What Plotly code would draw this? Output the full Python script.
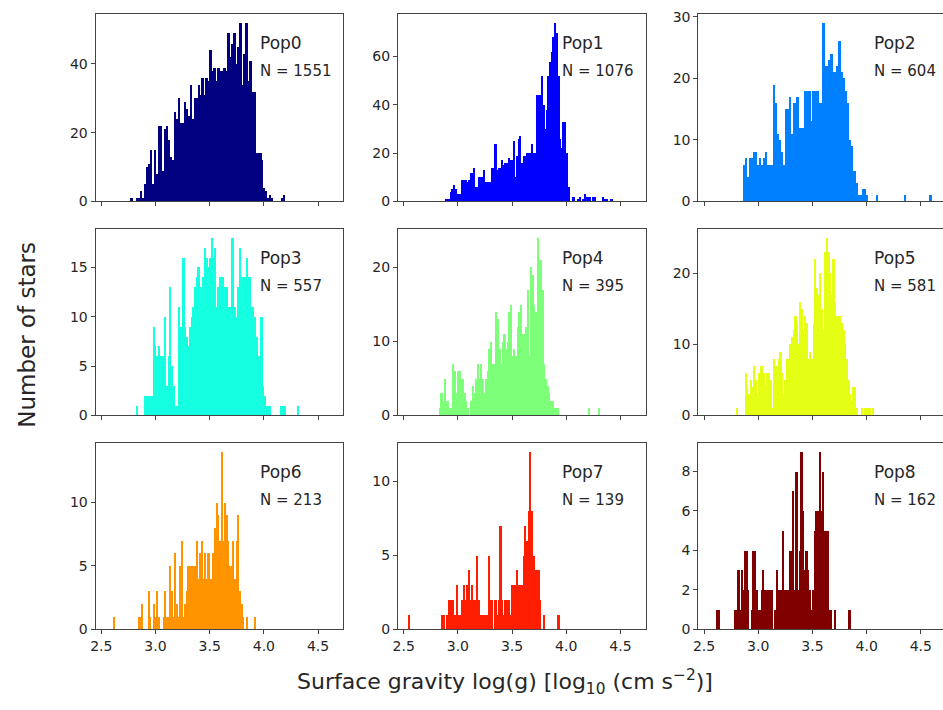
import plotly.graph_objects as go

# ---------------- data ----------------
pop_names = ["Pop0", "Pop1", "Pop2", "Pop3", "Pop4", "Pop5", "Pop6", "Pop7", "Pop8"]
pop_n = [1551, 1076, 604, 557, 395, 581, 213, 139, 162]

bin_start = [2.766, 2.882, 2.866, 2.821, 2.827, 2.805, 2.607, 2.546, 2.616]
bin_width = [0.0183, 0.0153, 0.0183, 0.0153, 0.0153, 0.0153, 0.0153, 0.0153, 0.0153]

pop0_counts = [1,0,0,1,1,3,1,5,10,11, 15,5,15,8,22,22,9,21,22,18, 13,12,26,24,30,23,23,29,27,25,
               34,24,30,30,34,31,36,31,36,35, 44,38,39,35,39,38,38,39,38,49, 42,46,49,40,45,52,34,43,52,35,
               41,32,32,14,14,14,12,4,3,1, 2,1,0,0,0,0,1,2]
pop1_counts = [1,1,1,4,5,7,5,3,3,3, 9,9,9,8,9,12,12,14,6,6, 10,10,10,13,8,8,8,8,14,14,
               24,13,14,14,17,15,16,16,18,17, 17,25,10,19,26,27,16,19,19,20, 20,20,24,20,20,44,44,44,52,40,
               30,38,52,58,62,68,74,70,52,26, 22,33,33,20,6,0,0,2,0,0, 1,2,0,1,3,2,2,2,0,2,
               2,0,0,0,0,2,1,1,0,0, 1]
pop2_counts = [6,7,4,7,7,8,8,6,7,6, 7,8,6,6,6,19,16,11,10,8, 6,15,15,17,11,16,16,17,12,12,
               12,18,18,18,13,18,18,18,16,16, 29,22,22,23,24,21,21,22,26,21, 20,18,16,10,9,5,5,3,1,1,
               2,2,1,0,0,0,0,1,0,0, 0,0,0,0,0,0,0,0,0,0, 0,1,0,0,0,0,0,0,0,0, 0,0,0,0,1]
pop3_counts = [1,0,0,0,0,2,2,2,2,2, 9,7,6,7,6,6,6,10,3,6, 13,5,3,1,1,11,9,9,16,9,
               8,7,9,10,11,13,14,15,13,13, 14,17,16,15,16,18,16,17,11,13, 14,14,14,13,13,11,11,18,18,11,
               10,13,17,14,14,14,16,14,14,11, 11,10,8,6,6,10,3,2,1,1, 1,0,0,0,0,0,0,1,1,1,
               0,0,0,0,0,0,0,1]
pop4_counts = [1,3,2,5,2,2,1,1,7,6, 3,6,6,5,5,3,2,1,0,2, 4,3,5,7,5,7,5,3,5,6,
               9,10,7,7,14,13,9,7,10,11, 9,10,14,15,8,9,8,12,14,15, 11,11,12,17,8,20,19,15,14,24,
               21,21,17,7,5,4,3,2,2,1, 1,1,0,0,0,0,0,0,0,0, 0,0,0,0,0,0,0,0,0,0,
               1,0,0,0,0,0,1]
pop5_counts = [1,0,0,0,0,6,4,3,5,4, 7,5,3,6,7,7,6,4,6,6, 5,1,8,7,7,8,9,6,3,5,
               8,8,10,11,12,14,13,10,16,15, 12,14,13,8,9,8,13,22,18,17, 20,15,12,23,25,23,20,17,22,16,
               14,14,14,13,12,10,8,5,3,2, 4,4,1,0,0,1,0,1,1,1, 1,0,1]
pop6_counts = [1,0,0,0,0,0,0,0,0,0, 0,0,0,0,0,1,1,2,0,0, 0,3,1,0,2,1,3,1,0,0,
               1,3,1,1,5,3,1,6,2,1, 5,7,1,2,3,5,5,5,5,5, 7,4,6,7,4,6,4,6,4,4,
               6,8,10,9,7,14,7,10,9,7, 5,5,7,4,7,9,3,2,1,0, 1,0,0,0,0,1]
pop7_counts = [1,0,0,0,0,0,0,0,0,0, 0,0,0,0,0,0,0,0,0,0, 1,1,0,1,2,2,2,1,1,3,
               1,1,2,3,2,3,4,2,3,2, 2,5,2,1,1,1,1,1,5,2, 2,0,2,1,2,7,2,1,2,2,
               2,1,3,3,3,4,3,3,3,5, 7,6,8,12,8,5,4,4,4,2, 0,1,0,0,0,0,0,0,0,0, 1]
pop8_counts = [1,1,0,0,0,0,0,0,0,0, 0,1,1,3,1,3,2,4,4,2, 0,1,4,4,2,1,1,2,3,2,
               2,2,2,2,0,1,3,2,2,2, 5,2,2,2,4,4,7,2,8,2, 4,9,6,3,4,3,2,1,2,5,
               6,6,9,6,8,5,5,5,1,1, 0,1,0,0,0,0,0,0,0,0, 1]

all_counts = [pop0_counts, pop1_counts, pop2_counts, pop3_counts, pop4_counts,
              pop5_counts, pop6_counts, pop7_counts, pop8_counts]

y_dticks = [20, 20, 10, 5, 10, 10, 5, 5, 2]
x_ticks = [2.5, 3.0, 3.5, 4.0, 4.5]
x_ticklabels = ["2.5", "3.0", "3.5", "4.0", "4.5"]

# jet colormap sampled at 9 levels
colors = ["#000080", "#0000ff", "#0080ff", "#15ffe1", "#7dff7a",
          "#e4ff13", "#ff9400", "#ff1e00", "#800000"]

# ---------------- layout geometry ----------------
W, H = 943, 710
col_px = [(91, 340), (395, 644), (697, 943)]
row_px = [(9, 200), (228, 418), (446, 636)]
px_per_unit = 249 / 2.285
x_lo = 2.447
label_x_px = [254, 558, 872]

fig = go.Figure()
layout = dict(
    width=W, height=H,
    margin=dict(l=0, r=0, t=0, b=0),
    paper_bgcolor="white", plot_bgcolor="white",
    showlegend=False, bargap=0,
    font=dict(family="DejaVu Sans", color="#262626"),
)
annotations = []

for k in range(9):
    r, c = divmod(k, 3)
    idx = k + 1
    xa = "x" if idx == 1 else f"x{idx}"
    ya = "y" if idx == 1 else f"y{idx}"
    counts = all_counts[k]
    w = bin_width[k]
    centers = [bin_start[k] + (i + 0.5) * w for i in range(len(counts))]
    fig.add_trace(go.Bar(
        x=centers, y=counts, width=w,
        marker=dict(color=colors[k], line=dict(width=0)),
        xaxis=xa, yaxis=ya, hoverinfo="skip",
    ))
    x0p, x1p = col_px[c]
    y0p, y1p = row_px[r]
    x_hi = x_lo + (x1p - x0p) / px_per_unit
    layout["xaxis" if idx == 1 else f"xaxis{idx}"] = dict(
        domain=[x0p / W, x1p / W], anchor=ya, range=[x_lo, x_hi],
        tickvals=x_ticks, ticktext=x_ticklabels,
        showticklabels=(r == 2), ticks="outside", ticklen=4, tickwidth=1,
        tickcolor="#444", showline=True, linecolor="#444", linewidth=1,
        mirror=True, showgrid=False, zeroline=False,
        tickfont=dict(size=14, color="#262626"),
    )
    layout["yaxis" if idx == 1 else f"yaxis{idx}"] = dict(
        domain=[1 - y1p / H, 1 - y0p / H], anchor=xa,
        range=[0, max(counts) * 1.05], dtick=y_dticks[k], tick0=0,
        ticks="outside", ticklen=4, tickwidth=1, tickcolor="#444",
        showline=True, linecolor="#444", linewidth=1,
        mirror=(c != 2), showgrid=False, zeroline=False,
        tickfont=dict(size=14, color="#262626"),
    )
    annotations.append(dict(
        x=label_x_px[c] / W, y=1 - (y0p + 30) / H, xref="paper", yref="paper",
        text=pop_names[k], showarrow=False, xanchor="left", yanchor="middle",
        font=dict(size=17, color="#262626"),
    ))
    annotations.append(dict(
        x=label_x_px[c] / W, y=1 - (y0p + 58) / H, xref="paper", yref="paper",
        text=f"N = {pop_n[k]}", showarrow=False, xanchor="left", yanchor="middle",
        font=dict(size=15, color="#262626"),
    ))

annotations.append(dict(
    x=503 / W, y=1 - 690 / H, xref="paper", yref="paper",
    text="Surface gravity log(g) [log<sub>10</sub> (cm s<sup>\u22122</sup>)]",
    showarrow=False, xanchor="center", yanchor="middle",
    font=dict(size=22, color="#262626"),
))
annotations.append(dict(
    x=22 / W, y=1 - 336 / H, xref="paper", yref="paper",
    text="Number of stars", textangle=-90,
    showarrow=False, xanchor="center", yanchor="middle",
    font=dict(size=23, color="#262626"),
))

layout["annotations"] = annotations
fig.update_layout(**layout)
fig.write_html("out.html")
